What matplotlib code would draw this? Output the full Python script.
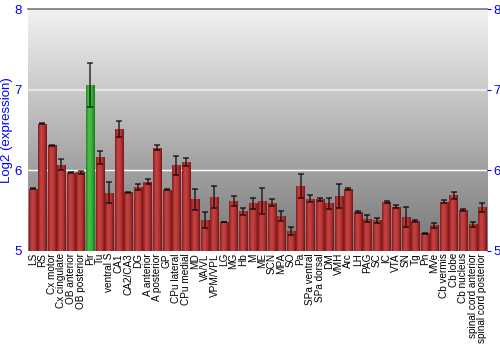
import numpy as np
import matplotlib
matplotlib.use("Agg")
import matplotlib.pyplot as plt
from matplotlib.colors import LinearSegmentedColormap

categories = ["LS", "RS", "Cx motor", "Cx cingulate", "OB anterior", "OB posterior", "Pir", "Tu",
              "ventral S", "CA1", "CA2/CA3", "DG", "A anterior", "A posterior", "GP", "CPu lateral",
              "CPu medial", "MD", "VA/VL", "VPM/VPL", "LG", "MG", "Hb", "M", "ME", "SCN", "MPA",
              "SO", "Pa", "SPa ventral", "SPa dorsal", "DM", "VMH", "Arc", "LH", "PAG", "SC", "IC",
              "VTA", "SN", "Tg", "Pn", "MVe", "Cb vermis", "Cb lobe", "Cb nucleus",
              "spinal cord anterior", "spinal cord posterior"]
values = [5.77, 6.58, 6.31, 6.07, 5.97, 5.975, 7.06, 6.16,
          5.72, 6.51, 5.73, 5.79, 5.86, 6.28, 5.76, 6.06,
          6.10, 5.64, 5.38, 5.67, 5.36, 5.62, 5.49, 5.59, 5.62, 5.60, 5.43,
          5.25, 5.81, 5.65, 5.64, 5.59, 5.68, 5.77, 5.48, 5.40, 5.38, 5.61,
          5.55, 5.42, 5.37, 5.22, 5.32, 5.61, 5.69, 5.51,
          5.33, 5.54]
errors = [0.005, 0.005, 0.005, 0.07, 0.005, 0.02, 0.27, 0.085,
          0.13, 0.10, 0.005, 0.04, 0.03, 0.03, 0.01, 0.12,
          0.05, 0.13, 0.10, 0.14, 0.005, 0.065, 0.04, 0.065, 0.16, 0.04, 0.06,
          0.05, 0.15, 0.04, 0.02, 0.07, 0.15, 0.01, 0.01, 0.04, 0.03, 0.01,
          0.02, 0.12, 0.01, 0.005, 0.03, 0.02, 0.04, 0.01,
          0.03, 0.06]
highlight = "Pir"
yticks = [5, 6, 7, 8]

plt.rcParams['font.family'] = ['Liberation Sans', 'DejaVu Sans']
fig = plt.figure(figsize=(5, 3.5), dpi=100)
ax = fig.add_axes([0.056, 0.283, 0.918, 0.691])

n = len(categories)
x = np.arange(n)
ax.set_xlim(-0.5, n - 0.5)
ax.set_ylim(5, 8)

# background gradient
grad = np.linspace(0, 1, 256).reshape(-1, 1)
bg_cmap = LinearSegmentedColormap.from_list("bg", ["#f2f2f2", "#777777"])
ax.imshow(grad, extent=[0, 1, 0, 1], transform=ax.transAxes, cmap=bg_cmap,
          aspect='auto', zorder=0, origin='upper')

ax.axhline(7, color="#e6e6e6", lw=1.6, zorder=1)
ax.axhline(6, color="#ffffff", lw=1.0, zorder=1)

red_cmap = LinearSegmentedColormap.from_list("red", ["#8a1c1c", "#c84444", "#b53535", "#7a1515"])
green_cmap = LinearSegmentedColormap.from_list("green", ["#1f8a1f", "#4cc24c", "#38ad38", "#1a7a1a"])
hgrad = np.linspace(0, 1, 64).reshape(1, -1)
width = 0.86
bars = ax.bar(x, np.array(values) - 5, bottom=5, width=width, color="none",
              edgecolor="none", zorder=2)
for xi, b, cat in zip(x, bars, categories):
    cm = green_cmap if cat == highlight else red_cmap
    im = ax.imshow(hgrad, extent=[xi - width / 2, xi + width / 2, 5, b.get_y() + b.get_height()],
                   cmap=cm, aspect='auto', zorder=2)
    im.set_clip_path(b)
ax.set_xlim(-0.5, n - 0.5)
ax.set_ylim(5, 8)

ax.errorbar(x, values, yerr=errors, fmt='none', ecolor=(0, 0, 0, 0.7), elinewidth=1.2,
            capsize=2.5, capthick=1.2, zorder=3)

for s in ["left", "right", "bottom"]:
    ax.spines[s].set_visible(False)
ax.spines["top"].set_color("#777777")
ax.spines["top"].set_linewidth(1.2)

ax.set_yticks(yticks)
ax.tick_params(axis='y', which='both', left=False, right=True, labelleft=True, labelright=True,
               labelcolor="blue", labelsize=9.5, color="blue", length=3, pad=1.5)
ax.set_ylabel("Log2 (expression)", color="blue", fontsize=9.5, labelpad=1)

ax.set_xticks(x)
ax.set_xticklabels(categories, rotation=90, fontsize=7.2)
ax.tick_params(axis='x', length=0, pad=1.5)

fig.savefig("out.png", dpi=100)
